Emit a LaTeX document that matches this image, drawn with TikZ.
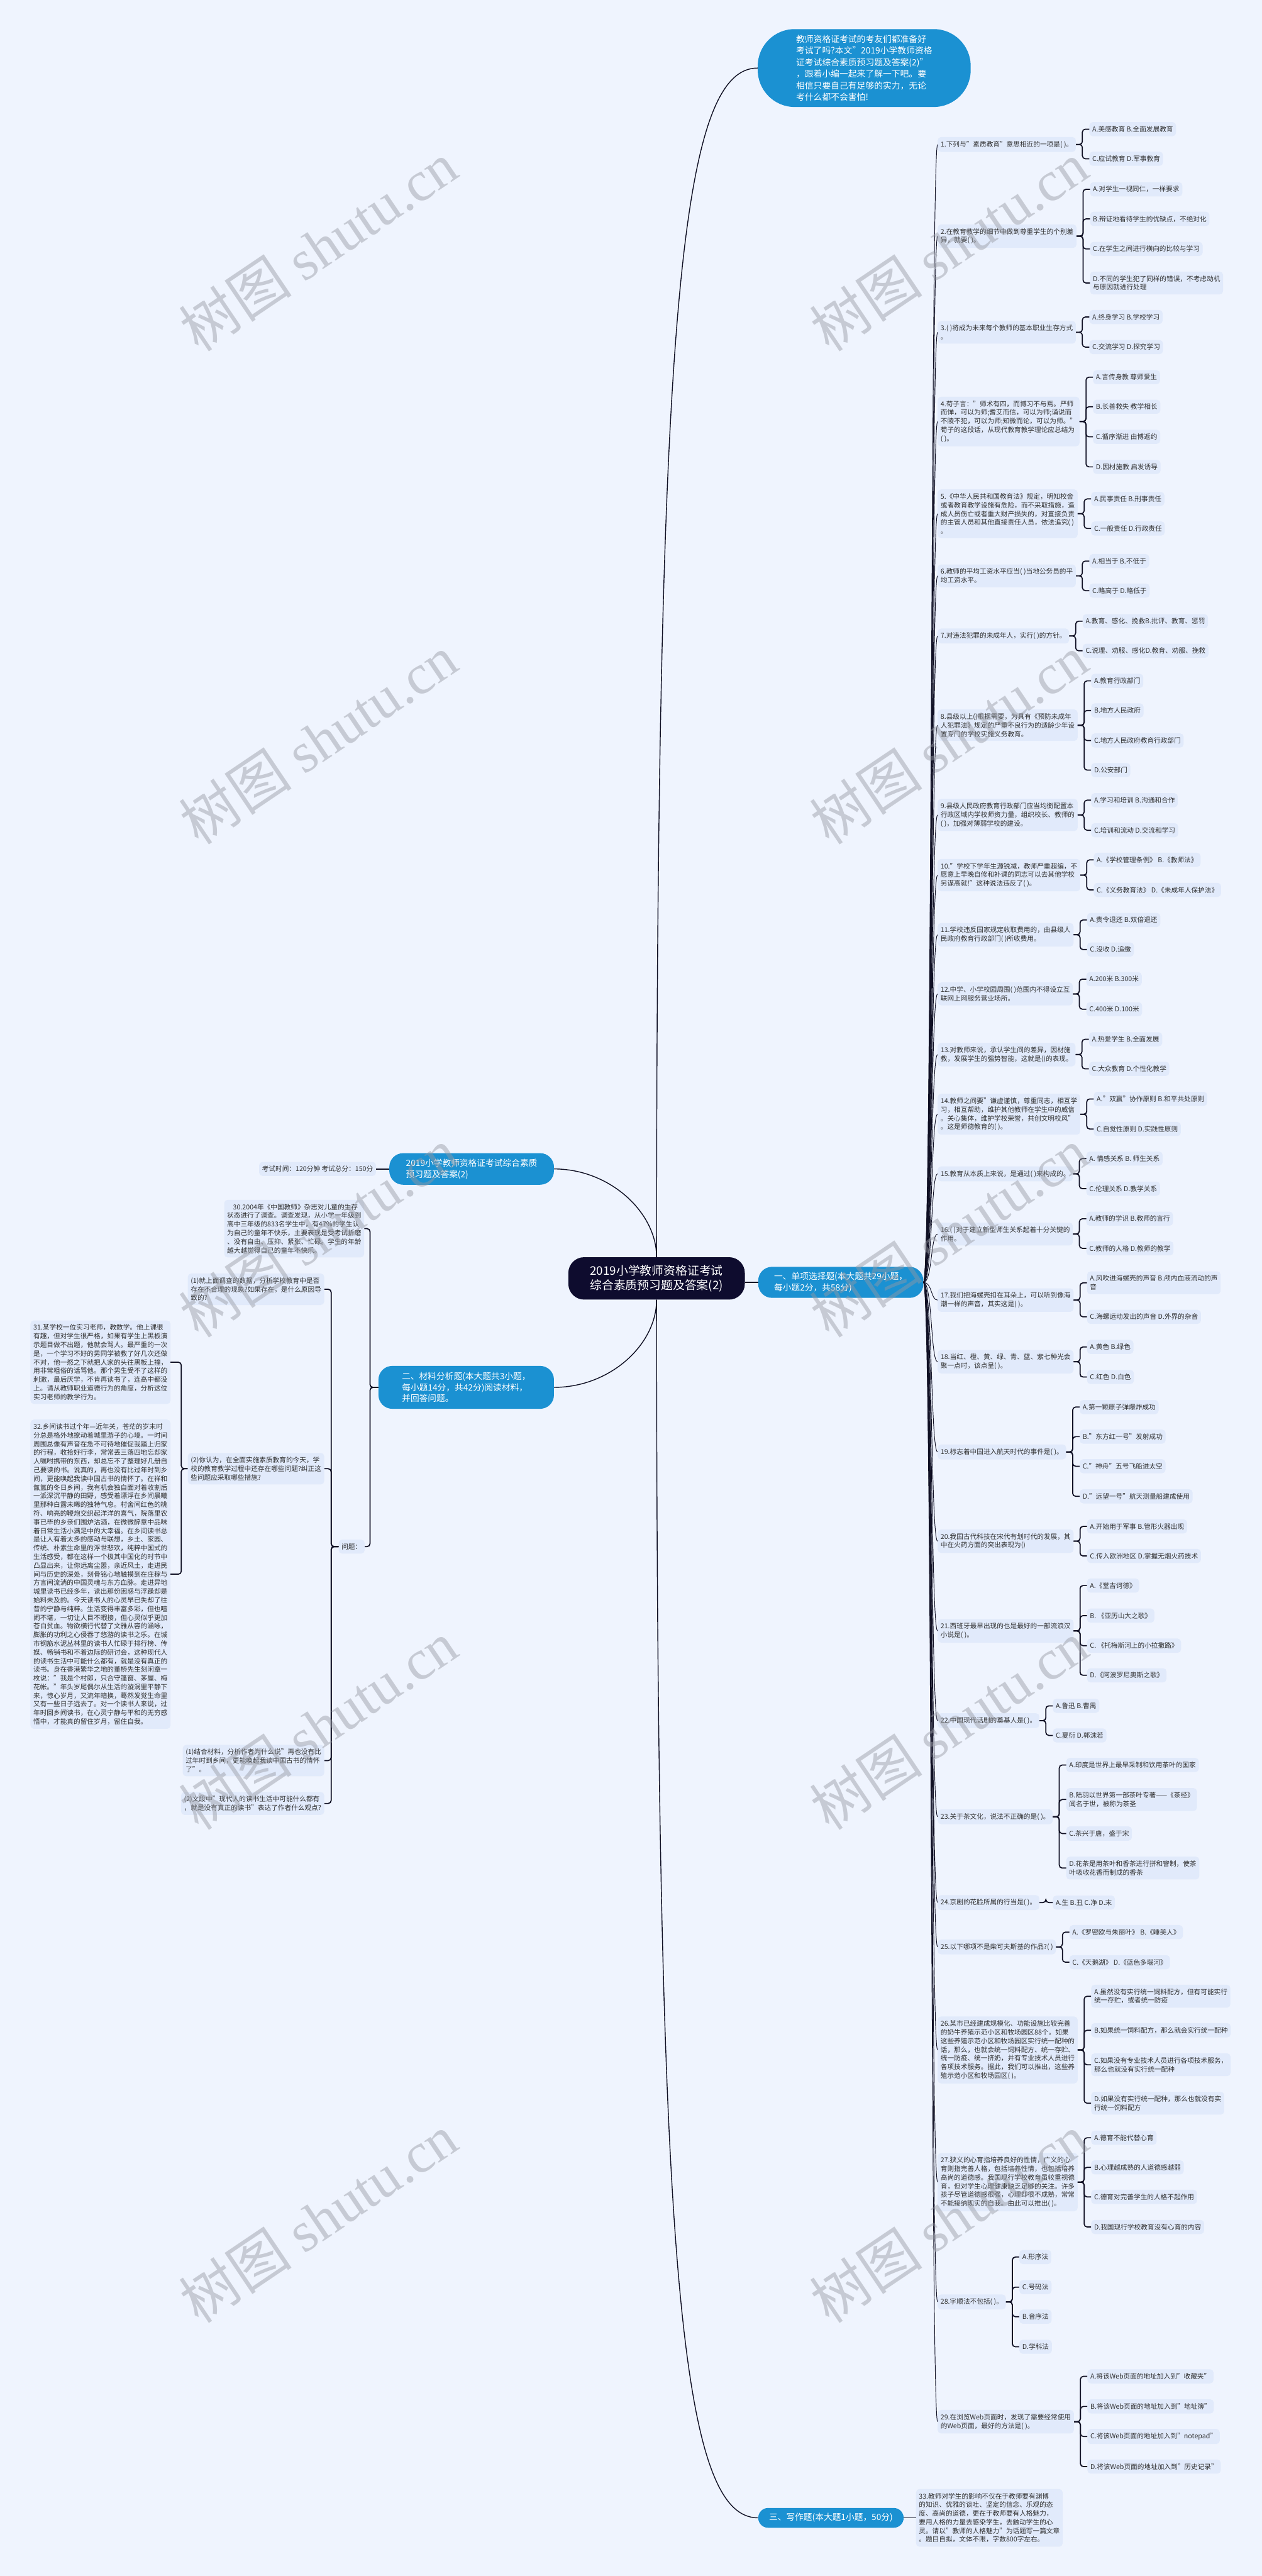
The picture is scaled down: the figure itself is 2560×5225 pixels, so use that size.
\documentclass[tikz,border=0pt]{standalone}
\usepackage{fontspec}
\setmainfont{Noto Sans CJK SC}
\newfontfamily\latinserif{Liberation Serif}
\usetikzlibrary{calc,positioning}

\definecolor{bgblue}{RGB}{239,244,254}
\definecolor{leafblue}{RGB}{225,234,251}
\definecolor{topicblue}{RGB}{27,145,210}
\definecolor{rootnavy}{RGB}{14,12,46}
\definecolor{linenavy}{RGB}{16,16,36}
\definecolor{leaftext}{RGB}{48,48,48}
\definecolor{wmgray}{RGB}{150,153,162}

\begin{document}
\begin{tikzpicture}[x=1pt,y=-1pt,
  leaf/.style={fill=leafblue,rounded corners=7pt,inner xsep=6pt,inner ysep=8pt,
    align=left,text=leaftext,font=\fontsize{13.6}{17.6}\selectfont},
  topic/.style={fill=topicblue,rounded corners=28pt,inner xsep=22pt,inner ysep=11pt,
    align=left,text=white,font=\fontsize{17.5}{22.5}\selectfont},
  main/.style={draw=linenavy,line width=1.8pt},
  fan/.style={draw=linenavy,line width=1.2pt},
  brk/.style={draw=linenavy,line width=2.2pt,rounded corners=6pt},
  wm/.style={text=wmgray,text opacity=0.45,font=\fontsize{115}{115}\selectfont,rotate=34}]

  \fill[bgblue] (0,0) rectangle (2560,5225);
  \useasboundingbox (0,0) rectangle (2560,5225);

  % root and first level
  \node[fill=rootnavy,rounded corners=32pt,text=white,align=left,minimum width=358pt,
    minimum height=86pt,font=\fontsize{24}{29.7}\selectfont] (root) at (1332,2593)
    {2019小学教师资格证考试\\综合素质预习题及答案(2)};
  \node[topic,anchor=west,minimum width=432pt,minimum height=158pt,rounded corners=75pt,
    font=\fontsize{17.6}{23.5}\selectfont] (intro) at (1537,138)
    {教师资格证考试的考友们都准备好\\考试了吗?本文"2019小学教师资格\\证考试综合素质预习题及答案(2)"\\，跟着小编一起来了解一下吧。要\\相信只要自己有足够的实力，无论\\考什么都不会害怕!};
  \node[topic,anchor=east,minimum width=334pt,minimum height=64pt] (info) at (1124,2371)
    {2019小学教师资格证考试综合素质\\预习题及答案(2)};
  \node[topic,anchor=west,minimum width=335pt,minimum height=63pt] (sec1) at (1538,2601)
    {一、单项选择题(本大题共29小题，\\每小题2分，共58分)};
  \node[topic,anchor=east,minimum width=356pt,minimum height=87pt] (sec2) at (1124,2814)
    {二、材料分析题(本大题共3小题，\\每小题14分，共42分)阅读材料，\\并回答问题。};
  \node[topic,anchor=west,minimum width=293pt,minimum height=40pt,rounded corners=20pt] (sec3) at (1538,5107)
    {三、写作题(本大题1小题，50分)};

  \draw[main] (root.north) .. controls (1332,645) and (1380,138) .. (intro.west);
  \draw[main] (root.north) .. controls (1332,2460) and (1238,2371) .. (info.east);
  \draw[main] (root.south) .. controls (1332,2727) and (1238,2814) .. (sec2.east);
  \draw[main] (root.south) .. controls (1332,4600) and (1380,5107) .. (sec3.west);
  \draw[main] (sec1.west -| root.east) -- (sec1.west);

  % exam info
  \node[leaf,anchor=east] (exam) at (763,2371) {考试时间：120分钟 考试总分：150分};
  \draw[brk] (info.west) -- (exam.east);

  % material analysis
  \node[leaf,anchor=east] (m30) at (739,2492)
    {\hspace*{12pt}30.2004年《中国教师》杂志对儿童的生存\\状态进行了调查。调查发现，从小学一年级到\\高中三年级的833名学生中，有47\%的学生认\\为自己的童年不快乐，主要表现是受考试折磨\\、没有自由、压抑、紧张、忙碌。学生的年龄\\越大越觉得自己的童年不快乐。};
  \node[leaf,anchor=east] (wenti) at (740,3137) {问题：};
  \node[leaf,anchor=east] (p1) at (658,2615)
    {(1)就上面调查的数据，分析学校教育中是否\\存在不合理的现象?如果存在，是什么原因导\\致的?};
  \node[leaf,anchor=east] (p2) at (658,2979)
    {(2)你认为，在全面实施素质教育的今天，学\\校的教育教学过程中还存在哪些问题?纠正这\\些问题应采取哪些措施?};
  \node[leaf,anchor=east] (p3) at (658,3571)
    {(1)结合材料，分析作者为什么说"再也没有比\\过年时到乡间，更能唤起我读中国古书的情怀\\了"。};
  \node[leaf,anchor=east] (p4) at (658,3658)
    {(2)文段中"现代人的读书生活中可能什么都有\\，就是没有真正的读书"表达了作者什么观点?};
  \node[leaf,anchor=east] (m31) at (346,2763)
    {31.某学校一位实习老师，教数学。他上课很\\有趣，但对学生很严格，如果有学生上黑板演\\示题目做不出题，他就会骂人。最严重的一次\\是，一个学习不好的男同学被教了好几次还做\\不对，他一怒之下就把人家的头往黑板上撞，\\用非常粗俗的话骂他。那个男生受不了这样的\\刺激，最后厌学，不肯再读书了，连高中都没\\上。请从教师职业道德行为的角度，分析这位\\实习老师的教学行为。};
  \node[leaf,anchor=east] (m32) at (346,3193)
    {32.乡间读书过个年—近年关，苍茫的岁末时\\分总是格外地撩动着城里游子的心境。一时间\\周围总像有声音在急不可待地催促我踏上归家\\的行程，收拾好行李，常常丢三落四地忘却家\\人嘱咐携带的东西，却总忘不了整理好几册自\\己要读的书。说真的，再也没有比过年时到乡\\间，更能唤起我读中国古书的情怀了。在祥和\\氤氲的冬日乡间，我有机会独自面对着收割后\\一派深沉平静的田野，感受着漂浮在乡间晨曦\\里那种白露未晞的独特气息。村舍间红色的桃\\符、响亮的鞭炮交织起洋洋的喜气，院落里农\\事已毕的乡亲们围炉沽酒，在微微醉意中品味\\着日常生活小满足中的大幸福。在乡间读书总\\是让人有着太多的感动与联想，乡土、家园、\\传统、朴素生命里的浮世悲欢，纯粹中国式的\\生活感受，都在这样一个极其中国化的时节中\\凸显出来，让你远离尘嚣，亲近风土，走进民\\间与历史的深处，刻骨铭心地触摸到在庄稼与\\方言间流淌的中国灵魂与东方血脉。走进异地\\城里读书已经多年，读出那份困惑与浮躁却是\\始料未及的。今天读书人的心灵早已失却了往\\昔的宁静与纯粹。生活变得丰富多彩，但也喧\\闹不堪，一切让人目不暇接，但心灵似乎更加\\苍白贫血。物欲横行代替了文雅从容的涵咏，\\膨胀的功利之心侵吞了悠游的读书之乐。在城\\市钢筋水泥丛林里的读书人忙碌于排行榜、传\\媒、畅销书和不着边际的研讨会，这种现代人\\的读书生活中可能什么都有，就是没有真正的\\读书。身在香港繁华之地的董桥先生刻闲章一\\枚说："我是个村郎，只合守篷窗、茅屋、梅\\花帐。"年头岁尾偶尔从生活的漩涡里平静下\\来，惊心岁月，又流年暗换，蓦然发觉生命里\\又有一些日子远去了。对一个读书人来说，过\\年时回乡间读书，在心灵宁静与平和的无穷感\\悟中，才能真的留住岁月，留住自我。};

  \draw[brk] (sec2.west) -- ++(-17,0) |- (m30.east);
  \draw[brk] (sec2.west) -- ++(-17,0) |- (wenti.east);
  \foreach \p in {p1,p2,p3,p4}
    \draw[brk] (wenti.west) -- ++(-15,0) |- (\p.east);
  \foreach \m in {m31,m32}
    \draw[brk] (p2.west) -- ++(-13,0) |- (\m.east);

  % writing
  \node[leaf,anchor=west] (q33) at (1858,5107)
    {33.教师对学生的影响不仅在于教师要有渊博\\的知识、优雅的谈吐、坚定的信念、乐观的态\\度、高尚的道德，更在于教师要有人格魅力，\\要用人格的力量去感染学生，去触动学生的心\\灵。请以"教师的人格魅力"为话题写一篇文章\\。题目自拟，文体不限，字数800字左右。};
  \draw[brk] (sec3.east) -- (q33.west);

  % single choice questions
  \foreach \qn/\qy/\qtext/\alist in {
    1/293/{1.下列与"素质教育"意思相近的一项是( )。}/{262/{A.美感教育 B.全面发展教育},322/{C.应试教育 D.军事教育}},
    2/479/{2.在教育教学的细节中做到尊重学生的个别差\\异，就要( )。}/{384/{A.对学生一视同仁，一样要求},444/{B.辩证地看待学生的优缺点，不绝对化},505/{C.在学生之间进行横向的比较与学习},574/{D.不同的学生犯了同样的错误，不考虑动机\\与原因就进行处理}},
    3/674/{3.( )将成为未来每个教师的基本职业生存方式\\。}/{643/{A.终身学习 B.学校学习},704/{C.交流学习 D.探究学习}},
    4/855/{4.荀子言："师术有四，而博习不与焉。严师\\而惮，可以为师;耆艾而信，可以为师;诵说而\\不陵不犯，可以为师;知微而论，可以为师。"\\荀子的这段话，从现代教育教学理论应总结为\\( )。}/{765/{A.言传身教 尊师爱生},825/{B.长善救失 教学相长},886/{C.循序渐进 由博返约},947/{D.因材施教 启发诱导}},
    5/1042/{5.《中华人民共和国教育法》规定，明知校舍\\或者教育教学设施有危险，而不采取措施，造\\成人员伤亡或者重大财产损失的，对直接负责\\的主管人员和其他直接责任人员，依法追究( )\\。}/{1012/{A.民事责任 B.刑事责任},1072/{C.一般责任 D.行政责任}},
    6/1168/{6.教师的平均工资水平应当( )当地公务员的平\\均工资水平。}/{1138/{A.相当于 B.不低于},1198/{C.略高于 D.略低于}},
    7/1290/{7.对违法犯罪的未成年人，实行( )的方针。}/{1260/{A.教育、感化、挽救B.批评、教育、惩罚},1320/{C.说理、劝服、感化D.教育、劝服、挽救}},
    8/1471/{8.县级以上()根据需要，为具有《预防未成年\\人犯罪法》规定的严重不良行为的适龄少年设\\置专门的学校实施义务教育。}/{1381/{A.教育行政部门},1441/{B.地方人民政府},1502/{C.地方人民政府教育行政部门},1562/{D.公安部门}},
    9/1653/{9.县级人民政府教育行政部门应当均衡配置本\\行政区域内学校师资力量，组织校长、教师的\\( )，加强对薄弱学校的建设。}/{1623/{A.学习和培训 B.沟通和合作},1684/{C.培训和流动 D.交流和学习}},
    10/1775/{10."学校下学年生源锐减，教师严重超编，不\\愿意上早晚自修和补课的同志可以去其他学校\\另谋高就!"这种说法违反了( )。}/{1744/{A.《学校管理条例》 B.《教师法》},1805/{C.《义务教育法》 D.《未成年人保护法》}},
    11/1896/{11.学校违反国家规定收取费用的，由县级人\\民政府教育行政部门( )所收费用。}/{1866/{A.责令退还 B.双倍退还},1926/{C.没收 D.追缴}},
    12/2016/{12.中学、小学校园周围( )范围内不得设立互\\联网上网服务营业场所。}/{1986/{A.200米 B.300米},2047/{C.400米 D.100米}},
    13/2139/{13.对教师来说，承认学生间的差异，因材施\\教，发展学生的强势智能，这就是()的表现。}/{2108/{A.热爱学生 B.全面发展},2168/{C.大众教育 D.个性化教学}},
    14/2260/{14.教师之间要"谦虚谨慎，尊重同志，相互学\\习，相互帮助，维护其他教师在学生中的威信\\。关心集体，维护学校荣誉，共创文明校风"\\。这是师德教育的( )。}/{2229/{A."双赢"协作原则 B.和平共处原则},2290/{C.自觉性原则 D.实践性原则}},
    15/2381/{15.教育从本质上来说，是通过( )来构成的。}/{2350/{A. 情感关系 B. 师生关系},2411/{C.伦理关系 D.教学关系}},
    16/2503/{16.( )对于建立新型师生关系起着十分关键的\\作用。}/{2472/{A.教师的学识 B.教师的言行},2532/{C.教师的人格 D.教师的教学}},
    17/2637/{17.我们把海螺壳扣在耳朵上，可以听到像海\\潮一样的声音，其实这是( )。}/{2602/{A.风吹进海螺壳的声音 B.颅内血液流动的声\\音},2671/{C.海螺运动发出的声音 D.外界的杂音}},
    18/2762/{18.当红、橙、黄、绿、青、蓝、紫七种光会\\聚一点时，该点呈( )。}/{2732/{A.黄色 B.绿色},2793/{C.红色 D.白色}},
    19/2945/{19.标志着中国进入航天时代的事件是( )。}/{2854/{A.第一颗原子弹爆炸成功},2914/{B."东方红一号"发射成功},2974/{C."神舟"五号飞船进太空},3035/{D."远望一号"航天测量船建成使用}},
    20/3126/{20.我国古代科技在宋代有划时代的发展，其\\中在火药方面的突出表现为()}/{3096/{A.开始用于军事 B.管形火器出现},3156/{C.传入欧洲地区 D.掌握无烟火药技术}},
    21/3308/{21.西班牙最早出现的也是最好的一部流浪汉\\小说是( )。}/{3216/{A.《堂吉诃德》},3277/{B. 《亚历山大之歌》},3338/{C. 《托梅斯河上的小拉撒路》},3398/{D.《阿波罗尼奥斯之歌》}},
    22/3490/{22.中国现代话剧的奠基人是( )。}/{3460/{A.鲁迅 B.曹禺},3520/{C.夏衍 D.郭沫若}},
    23/3685/{23.关于茶文化，说法不正确的是( )。}/{3580/{A.印度是世界上最早采制和饮用茶叶的国家},3650/{B.陆羽以世界第一部茶叶专著——《茶经》\\闻名于世，被称为茶圣},3719/{C.茶兴于唐，盛于宋},3789/{D.花茶是用茶叶和香茶进行拼和窨制，使茶\\叶吸收花香而制成的香茶}},
    24/3859/{24.京剧的花脸所属的行当是( )。}/{3859/{A.生 B.丑 C.净 D.末}},
    25/3949/{25.以下哪项不是柴可夫斯基的作品?( )}/{3919/{A.《罗密欧与朱丽叶》 B.《睡美人》},3980/{C.《天鹅湖》 D.《蓝色多瑙河》}},
    26/4158/{26.某市已经建成规模化、功能设施比较完善\\的奶牛养殖示范小区和牧场园区88个。如果\\这些养殖示范小区和牧场园区实行统一配种的\\话，那么，也就会统一饲料配方、统一存贮、\\统一防疫、统一挤奶，并有专业技术人员进行\\各项技术服务。据此，我们可以推出，这些养\\殖示范小区和牧场园区( )。}/{4049/{A.虽然没有实行统一饲料配方，但有可能实行\\统一存贮，或者统一防疫},4118/{B.如果统一饲料配方，那么就会实行统一配种},4188/{C.如果没有专业技术人员进行各项技术服务，\\那么也就没有实行统一配种},4266/{D.如果没有实行统一配种，那么也就没有实\\行统一饲料配方}},
    27/4426/{27.狭义的心育指培养良好的性情，广义的心\\育则指完善人格，包括培养性情，也包括培养\\高尚的道德感。我国现行学校教育虽较重视德\\育，但对学生心理健康缺乏足够的关注。许多\\孩子尽管道德感很强，心理却很不成熟，常常\\不能接纳现实的自我。由此可以推出( )。}/{4336/{A.德育不能代替心育},4396/{B.心理越成熟的人道德感越弱},4456/{C.德育对完善学生的人格不起作用},4517/{D.我国现行学校教育没有心育的内容}},
    28/4669/{28.字顺法不包括( )。}/{4578/{A.形序法},4639/{C.号码法},4699/{B.音序法},4760/{D.学科法}},
    29/4912/{29.在浏览Web页面时，发现了需要经常使用\\的Web页面，最好的方法是( )。}/{4820/{A.将该Web页面的地址加入到"收藏夹"},4881/{B.将该Web页面的地址加入到"地址簿"},4942/{C.将该Web页面的地址加入到"notepad"},5003/{D.将该Web页面的地址加入到"历史记录"}}}
  {
    \node[leaf,anchor=west] (q\qn) at (1902,\qy) {\qtext};
    \draw[fan] (sec1.east) .. controls +(18,0) and +(-14,0) .. (q\qn.west);
    \coordinate (qr\qn) at ($(q\qn.east)+(27,0)$);
    \foreach \ay/\atext in \alist {
      \node[leaf,anchor=west] (ans) at (qr\qn |- 0,\ay) {\atext};
      \draw[brk] (q\qn.east) -- ++(13,0) |- (ans.west);
    }
  }

  % watermark
  \foreach \wx in {646,1925}
    \foreach \wy in {500,1500,2500,3500,4500}
      \node[wm] at (\wx,\wy) {树图 {\latinserif shutu.cn}};
\end{tikzpicture}
\end{document}
